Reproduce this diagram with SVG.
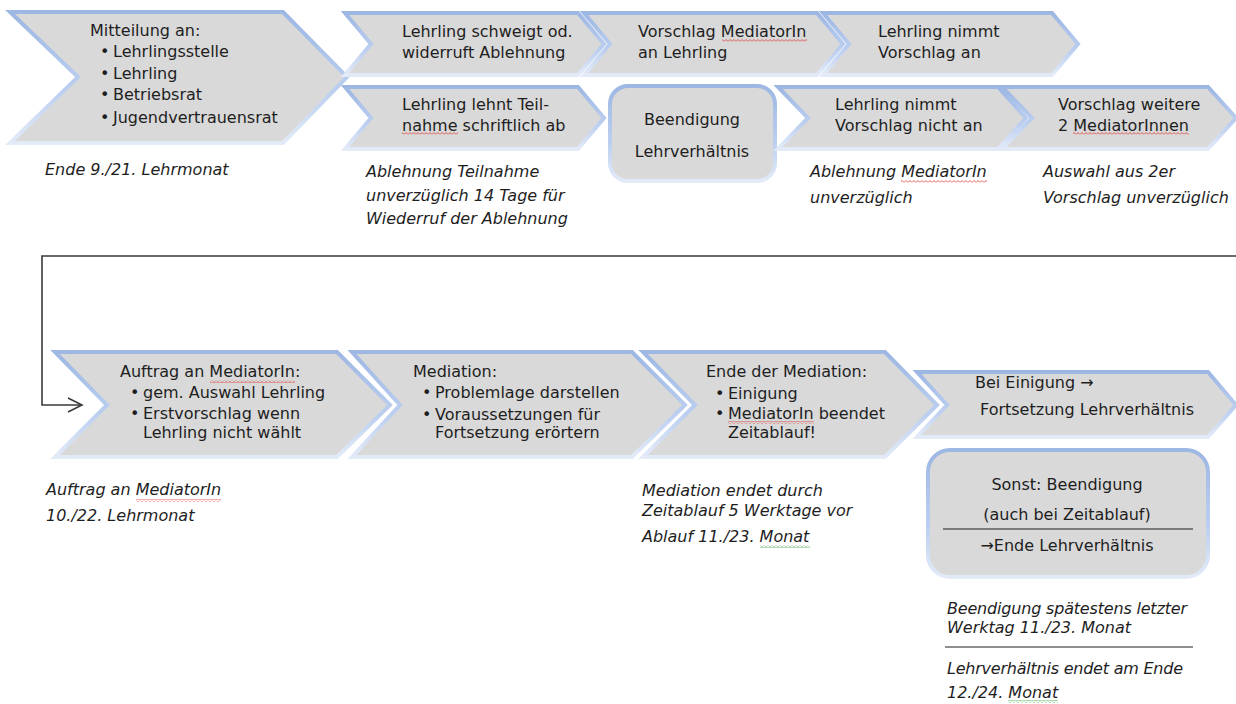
<svg xmlns="http://www.w3.org/2000/svg" width="1236" height="704" viewBox="0 0 1236 704">
<style>
.s{fill:#d9d9d9;stroke:url(#edge);stroke-width:4;stroke-linejoin:miter}
.t{font-family:"DejaVu Sans",sans-serif;font-size:16px;fill:#1e1e1e}
.i{font-style:italic}
.c{text-anchor:middle}
.sep{stroke:#1e1e1e;stroke-width:1.2}
.wr{fill:url(#wavR)}
.wg{fill:url(#wavG)}
.con{fill:none;stroke:#3a3a3a;stroke-width:1.6}
</style>
<defs>
<linearGradient id="edge" x1="0" y1="0" x2="0" y2="1">
<stop offset="0" stop-color="#9db7e3"/>
<stop offset="0.6" stop-color="#bccff0"/>
<stop offset="1" stop-color="#e3ebf8"/>
</linearGradient>
<pattern id="wavR" width="4" height="3" patternUnits="userSpaceOnUse">
<path d="M0,2.5 L2,0.5 L4,2.5" fill="none" stroke="#e03030" stroke-width="0.8"/>
</pattern>
<pattern id="wavG" width="4" height="3" patternUnits="userSpaceOnUse">
<path d="M0,2.5 L2,0.5 L4,2.5" fill="none" stroke="#3aa53a" stroke-width="0.8"/>
</pattern>
<marker id="open" markerUnits="userSpaceOnUse" markerWidth="18" markerHeight="18" refX="15" refY="9" orient="auto">
<path d="M1,2 L15,9 L1,16" fill="none" stroke="#3a3a3a" stroke-width="1.6"/>
</marker>
</defs>

<g id="connectors">
<path class="con" d="M1236,256 H42 V405 H82" marker-end="url(#open)"/>
</g>

<g id="n-mitteilung">
<polygon class="s" points="10,12 283,12 347,77 283,143 10,143 78,77"/>
<text class="t" x="90" y="36">Mitteilung an:</text>
<text class="t" x="100" y="57">•</text><text class="t" x="113" y="57">Lehrlingsstelle</text>
<text class="t" x="100" y="79">•</text><text class="t" x="113" y="79">Lehrling</text>
<text class="t" x="100" y="100">•</text><text class="t" x="113" y="100">Betriebsrat</text>
<text class="t" x="100" y="123">•</text><text class="t" x="113" y="123">Jugendvertrauensrat</text>
</g>
<g id="note-ende9">
<text class="t i" x="45" y="175">Ende 9./21. Lehrmonat</text>
</g>

<g id="n-schweigt">
<polygon class="s" points="345,13 578,13 604,44 578,75 345,75 371,44"/>
<text class="t" x="402" y="37">Lehrling schweigt od.</text>
<text class="t" x="402" y="58">widerruft Ablehnung</text>
</g>
<g id="n-vorschlag">
<polygon class="s" points="584,13 817,13 843,44 817,75 584,75 610,44"/>
<text class="t" x="638" y="37">Vorschlag MediatorIn</text>
<text class="t" x="638" y="58">an Lehrling</text>
<rect class="wr" x="722" y="39" width="85" height="3"/>
</g>
<g id="n-nimmt">
<polygon class="s" points="823,13 1052,13 1078,44 1052,75 823,75 849,44"/>
<text class="t" x="878" y="37">Lehrling nimmt</text>
<text class="t" x="878" y="58">Vorschlag an</text>
</g>

<g id="n-lehnt">
<polygon class="s" points="345,87 578,87 604,118 578,149 345,149 371,118"/>
<text class="t" x="402" y="110">Lehrling lehnt Teil-</text>
<text class="t" x="402" y="131">nahme schriftlich ab</text>
<rect class="wr" x="402" y="132" width="56" height="3"/>
</g>
<g id="note-ablehnung">
<text class="t i" x="366" y="177">Ablehnung Teilnahme</text>
<text class="t i" x="366" y="201">unverzüglich 14 Tage für</text>
<text class="t i" x="366" y="224">Wiederruf der Ablehnung</text>
</g>
<g id="n-beendigung">
<rect class="s" x="610" y="86" width="165" height="95" rx="18"/>
<text class="t c" x="692" y="125">Beendigung</text>
<text class="t c" x="692" y="157">Lehrverhältnis</text>
</g>
<g id="n-nichtan">
<polygon class="s" points="778,87 998,87 1026,118 998,149 778,149 808,118"/>
<text class="t" x="835" y="110">Lehrling nimmt</text>
<text class="t" x="835" y="131">Vorschlag nicht an</text>
</g>
<g id="note-ablmed">
<text class="t i" x="810" y="177">Ablehnung MediatorIn</text>
<text class="t i" x="810" y="203">unverzüglich</text>
<rect class="wr" x="901" y="180" width="86" height="3"/>
</g>
<g id="n-weitere">
<polygon class="s" points="1002,87 1208,87 1236,118 1208,149 1002,149 1032,118"/>
<text class="t" x="1058" y="110">Vorschlag weitere</text>
<text class="t" x="1058" y="131">2 MediatorInnen</text>
<rect class="wr" x="1073" y="132" width="116" height="3"/>
</g>
<g id="note-auswahl">
<text class="t i" x="1043" y="177">Auswahl aus 2er</text>
<text class="t i" x="1043" y="203">Vorschlag unverzüglich</text>
</g>

<g id="n-auftrag">
<polygon class="s" points="55,352 337,352 390,405 337,457 55,457 107,405"/>
<text class="t" x="120" y="377">Auftrag an MediatorIn:</text>
<rect class="wr" x="210" y="380" width="85" height="3"/>
<text class="t" x="130" y="398">•</text><text class="t" x="143" y="398">gem. Auswahl Lehrling</text>
<text class="t" x="130" y="419">•</text><text class="t" x="143" y="419">Erstvorschlag wenn</text>
<text class="t" x="143" y="438">Lehrling nicht wählt</text>
</g>
<g id="note-auftrag">
<text class="t i" x="46" y="495">Auftrag an MediatorIn</text>
<rect class="wr" x="136" y="499" width="85" height="3"/>
<text class="t i" x="46" y="521">10./22. Lehrmonat</text>
</g>
<g id="n-mediation">
<polygon class="s" points="352,352 632,352 685,405 632,457 352,457 400,405"/>
<text class="t" x="413" y="377">Mediation:</text>
<text class="t" x="422" y="398">•</text><text class="t" x="435" y="398">Problemlage darstellen</text>
<text class="t" x="422" y="420">•</text><text class="t" x="435" y="420">Voraussetzungen für</text>
<text class="t" x="435" y="438">Fortsetzung erörtern</text>
</g>
<g id="n-ende">
<polygon class="s" points="643,352 885,352 937,405 885,457 643,457 695,405"/>
<text class="t" x="706" y="377">Ende der Mediation:</text>
<text class="t" x="715" y="399">•</text><text class="t" x="728" y="399">Einigung</text>
<text class="t" x="715" y="419">•</text><text class="t" x="728" y="419">MediatorIn beendet</text>
<rect class="wr" x="728" y="421" width="86" height="3"/>
<text class="t" x="728" y="438">Zeitablauf!</text>
</g>
<g id="note-mediation">
<text class="t i" x="642" y="496">Mediation endet durch</text>
<text class="t i" x="642" y="516">Zeitablauf 5 Werktage vor</text>
<text class="t i" x="642" y="542">Ablauf 11./23. Monat</text>
<rect class="wg" x="760" y="545" width="50" height="3"/>
</g>
<g id="n-einigung">
<polygon class="s" points="917,372 1208,372 1236,405 1208,437 917,437 947,405"/>
<text class="t" x="975" y="388">Bei Einigung →</text>
<text class="t" x="980" y="415">Fortsetzung Lehrverhältnis</text>
</g>
<g id="n-sonst">
<rect class="s" x="928" y="450" width="280" height="127" rx="22"/>
<text class="t c" x="1067" y="490">Sonst: Beendigung</text>
<text class="t c" x="1067" y="520">(auch bei Zeitablauf)</text>
<line class="sep" x1="943" y1="529" x2="1193" y2="529"/>
<text class="t c" x="1067" y="551">→Ende Lehrverhältnis</text>
</g>
<g id="note-sonst">
<text class="t i" x="947" y="614" textLength="240" lengthAdjust="spacing">Beendigung spätestens letzter</text>
<text class="t i" x="947" y="633">Werktag 11./23. Monat</text>
<line class="sep" x1="945" y1="647" x2="1193" y2="647"/>
<text class="t i" x="947" y="674" textLength="236" lengthAdjust="spacing">Lehrverhältnis endet am Ende</text>
<text class="t i" x="947" y="698">12./24. Monat</text>
<rect class="wg" x="1008" y="700" width="50" height="3"/>
</g>
</svg>
